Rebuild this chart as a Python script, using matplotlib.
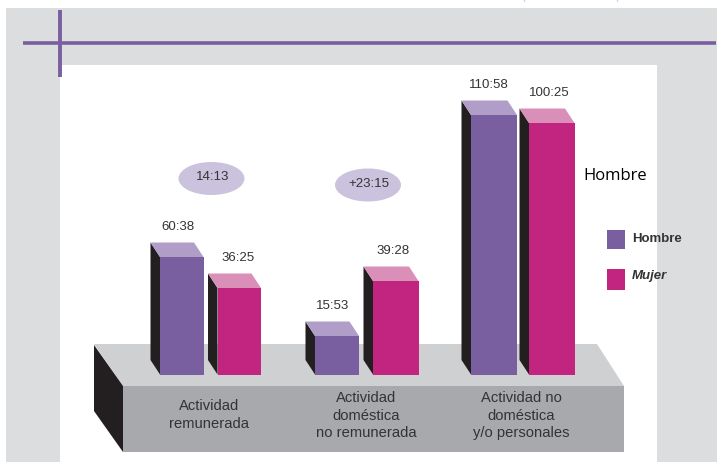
#!/usr/bin/env python3
"""Tiempo semanal por actividad y sexo: barras en falso 3D sobre una plataforma."""

import matplotlib
matplotlib.use("Agg")
import matplotlib.pyplot as plt
from matplotlib.patches import Ellipse, Polygon, Rectangle

plt.rcParams['font.family'] = ['Liberation Sans', 'DejaVu Sans']

# Data
categories = ["Actividad\nremunerada", "Actividad\ndoméstica\nno remunerada", "Actividad no\ndoméstica\ny/o personales"]
series_names = ["Hombre", "Mujer"]
hombre_labels = ["60:38", "15:53", "110:58"]
mujer_labels = ["36:25", "39:28", "100:25"]
# drawn heights: the original bars are not strictly to scale with their labels
hombre_heights = [117.5, 38.5, 259.5]
mujer_heights = [86.5, 93.5, 251.5]
difference_labels = ["14:13", "+23:15"]

# Layout
PURPLE = "#7a5fa0"
PURPLE_TOP = "#b09ec9"
MAGENTA = "#c22580"
MAGENTA_TOP = "#da8fb9"
DARK = "#231f20"
GRAY_BG = "#dcddde"
TEXT = "#333333"
BASE = 374.5
DX, DY = 9.5, 14.5
hombre_x = [160, 315, 471]
hombre_w = [43.5, 44, 46]
mujer_x = [217.5, 373, 529]
mujer_w = [43.5, 45.5, 45.5]
cat_x = [209, 366, 521]
cat_y = [399, 391, 391]
ellipse_xy = [(211.5, 178.5), (368, 185)]

fig = plt.figure(figsize=(7.17, 4.62), dpi=100)
ax = fig.add_axes([0, 0, 1, 1])
ax.set_xlim(0, 717)
ax.set_ylim(462, 0)
ax.axis('off')


def bar3d(x, w, height, front, top):
    y = BASE - height
    # front face goes through the normal bar call, side and top are polygons
    ax.bar(x, -height, width=w, bottom=BASE, align='edge', color=front, zorder=5)
    ax.add_patch(Polygon([(x - DX, y - DY), (x, y), (x, BASE), (x - DX, BASE - DY)], color=DARK, lw=0, zorder=4))
    ax.add_patch(Polygon([(x - DX, y - DY), (x + w - DX, y - DY), (x + w, y), (x, y)], color=top, lw=0, zorder=4))
    return y


# Background
ax.add_patch(Rectangle((6, 8), 711, 454, color=GRAY_BG, lw=0, zorder=0))
ax.add_patch(Rectangle((60, 65), 597, 397, color="white", lw=0, zorder=1))
ax.plot([23, 716], [42.5, 42.5], color=PURPLE, lw=2.6, solid_capstyle='butt', zorder=2)
ax.plot([59.5, 59.5], [10, 77], color=PURPLE, lw=2.8, solid_capstyle='butt', zorder=2)

# Bits of a cropped line at the very top of the page
ax.plot([523.5, 523.5], [0, 0.8], color="#b5a8c5", lw=1, solid_capstyle='butt', zorder=2)
ax.plot([616.5, 616.5], [0, 0.8], color="#b5a8c5", lw=1, solid_capstyle='butt', zorder=2)

# Platform
ax.add_patch(Polygon([(94, 344), (597, 344), (624, 386), (123, 386)], color="#cfd0d2", lw=0, zorder=2))
ax.add_patch(Rectangle((123, 386), 501, 66, color="#a7a9ac", lw=0, zorder=2))
ax.add_patch(Polygon([(94, 345), (123, 386), (123, 452), (94, 411)], color=DARK, lw=0, zorder=3))

# Bars and value labels
for i in range(len(categories)):
    y = bar3d(hombre_x[i], hombre_w[i], hombre_heights[i], PURPLE, PURPLE_TOP)
    ax.text(hombre_x[i] + 18, y - DY - 15.5, hombre_labels[i], fontsize=9.5,
            color=TEXT, ha='center', va='center', zorder=6)
    y = bar3d(mujer_x[i], mujer_w[i], mujer_heights[i], MAGENTA, MAGENTA_TOP)
    ax.text(mujer_x[i] + 20.5, y - DY - 15.5, mujer_labels[i], fontsize=9.5,
            color=TEXT, ha='center', va='center', zorder=6)
    ax.text(cat_x[i], cat_y[i], categories[i], fontsize=10.6, color=TEXT, ha='center', va='top',
            linespacing=1.32, zorder=6)

# Differences
for (ex, ey), lab in zip(ellipse_xy, difference_labels):
    ax.add_patch(Ellipse((ex, ey), 66, 33, color="#cbc3de", lw=0, zorder=3))
    ax.text(ex + 1, ey - 1, lab, fontsize=9.5, color=TEXT, ha='center', va='center', zorder=6)

# Legend
ax.add_patch(Rectangle((607, 230), 17.5, 19, color=PURPLE, lw=0, zorder=3))
ax.add_patch(Rectangle((607, 269), 17.5, 21, color=MAGENTA, lw=0, zorder=3))
ax.text(632, 239, series_names[0], fontsize=9.5, weight='bold', color=TEXT, va='center', zorder=6)
ax.text(632, 276, series_names[1], fontsize=9.5, weight='bold', style='italic', color=TEXT, va='center', zorder=6)

# Stray label sitting on top of the chart
ax.text(583, 176, "Hombre", family=['Open Sans', 'DejaVu Sans'], fontsize=12, color="black", va='center', zorder=6)

fig.savefig("out.png", dpi=100)
